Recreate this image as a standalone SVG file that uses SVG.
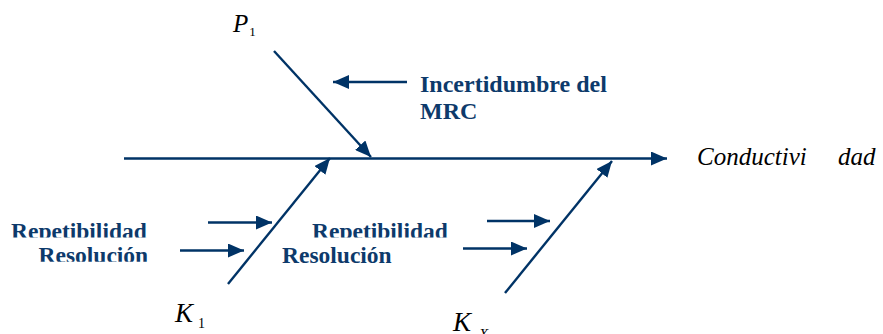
<svg xmlns="http://www.w3.org/2000/svg" width="883" height="334" viewBox="0 0 883 334">
<style>
.ln{stroke:#003366;stroke-width:2.4;fill:none;marker-end:url(#ah)}
.lbl{font-weight:bold;fill:#0d3a6b}
.var{font-style:italic;fill:#000}
</style>
<defs>
<marker id="ah" markerUnits="userSpaceOnUse" markerWidth="16" markerHeight="14" refX="16" refY="7" orient="auto">
<path d="M0,0 L16,7 L0,14 z" fill="#003366"/>
</marker>
<clipPath id="c1"><rect x="0" y="200" width="300" height="37.5"/></clipPath>
<clipPath id="c2"><rect x="0" y="240" width="300" height="21.8"/></clipPath>
<clipPath id="c3"><rect x="300" y="200" width="200" height="37.5"/></clipPath>
</defs>
<g id="connectors">
<line class="ln" x1="124" y1="158.5" x2="667" y2="158.5"/>
<line class="ln" x1="274" y1="51" x2="371" y2="157"/>
<line class="ln" x1="407" y1="82" x2="333" y2="82"/>
<line class="ln" x1="228" y1="284" x2="330" y2="158"/>
<line class="ln" x1="505" y1="293" x2="612" y2="161"/>
<line class="ln" x1="208" y1="222.5" x2="272" y2="222.5"/>
<line class="ln" x1="180" y1="250.5" x2="244" y2="250.5"/>
<line class="ln" x1="487" y1="221" x2="550" y2="221"/>
<line class="ln" x1="463" y1="248.5" x2="527" y2="248.5"/>
</g>
<g font-family="Liberation Serif, Times New Roman, serif">
<g id="P1"><text class="var" x="233" y="31.5" font-size="25">P<tspan font-style="normal" font-size="13" dy="4" dx="1">1</tspan></text></g>
<g id="mrc">
<text class="lbl" x="420" y="92" font-size="24">Incertidumbre del</text>
<text class="lbl" x="420" y="119" font-size="24">MRC</text>
</g>
<g id="output"><text class="var" x="697" y="165" font-size="25">Conductivi <tspan x="838">dad</tspan></text></g>
<g id="K1-causes">
<text class="lbl" x="11" y="238.5" font-size="23.5" clip-path="url(#c1)">Repetibilidad</text>
<text class="lbl" x="38.5" y="262.5" font-size="23.5" clip-path="url(#c2)">Resolución</text>
</g>
<g id="KX-causes">
<text class="lbl" x="312" y="238.5" font-size="23.5" clip-path="url(#c3)">Repetibilidad</text>
<text class="lbl" x="282" y="263" font-size="23.5">Resolución</text>
</g>
<g id="K1"><text class="var" x="175" y="322" font-size="27">K<tspan font-style="normal" font-size="14" dx="5" dy="6">1</tspan></text></g>
<g id="KX"><text class="var" x="453" y="331" font-size="27">K<tspan font-size="15" dx="8" dy="8">X</tspan></text></g>
</g>
</svg>
